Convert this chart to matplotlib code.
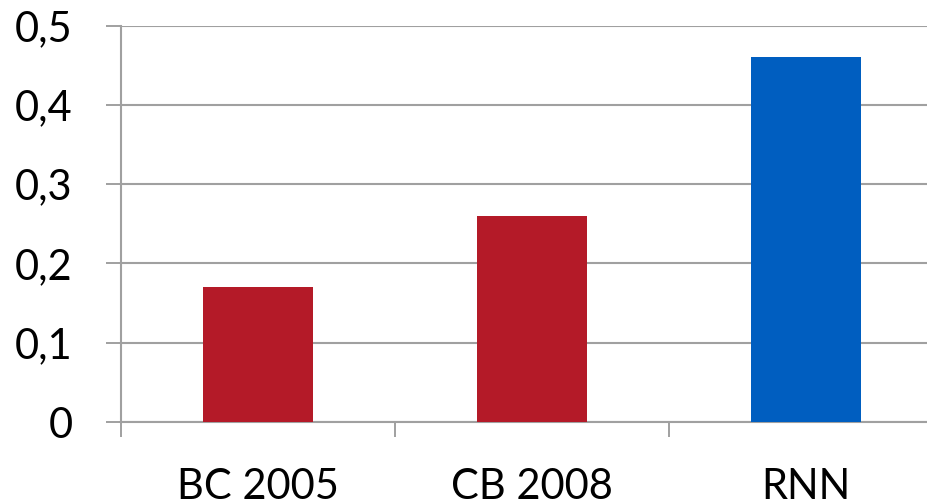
import matplotlib
matplotlib.use("Agg")
import matplotlib.pyplot as plt
from matplotlib.ticker import FixedLocator

categories = ["BC 2005", "CB 2008", "RNN"]
values = [0.17, 0.26, 0.46]
colors = ["#B41A28", "#B41A28", "#005EC0"]
yticks = [0, 0.1, 0.2, 0.3, 0.4, 0.5]
ytick_labels = ["0", "0,1", "0,2", "0,3", "0,4", "0,5"]

plt.rcParams['font.family'] = ['Lato', 'DejaVu Sans']

W, H = 928, 503
fig = plt.figure(figsize=(W/100, H/100), dpi=100)
ax = fig.add_axes([121/W, (H-422)/H, 822/W, (422-25.5)/H])

x = list(range(len(categories)))
ax.bar(x, values, width=0.4, color=colors, zorder=3)
ax.set_xlim(-0.5, 2.5)
ax.set_ylim(0, 0.5)

gc = "#A0A0A0"
ax.set_yticks(yticks)
ax.set_yticklabels(ytick_labels, fontsize=30)
ax.set_xticks(x)
ax.set_xticklabels(categories, fontsize=30)
ax.xaxis.set_minor_locator(FixedLocator([-0.5, 0.5, 1.5]))
ax.tick_params(axis='x', which='major', length=0, pad=33)
ax.tick_params(axis='x', which='minor', length=11, width=1.4, color=gc, direction='out')
ax.tick_params(axis='y', which='major', length=11, width=1.4, color=gc, direction='out', pad=24)
ax.yaxis.grid(True, color=gc, linewidth=1.5, zorder=0)
for s in ['top', 'right']:
    ax.spines[s].set_visible(False)
for s in ['left', 'bottom']:
    ax.spines[s].set_color(gc)
    ax.spines[s].set_linewidth(1.5)

fig.savefig("out.png", dpi=100)
